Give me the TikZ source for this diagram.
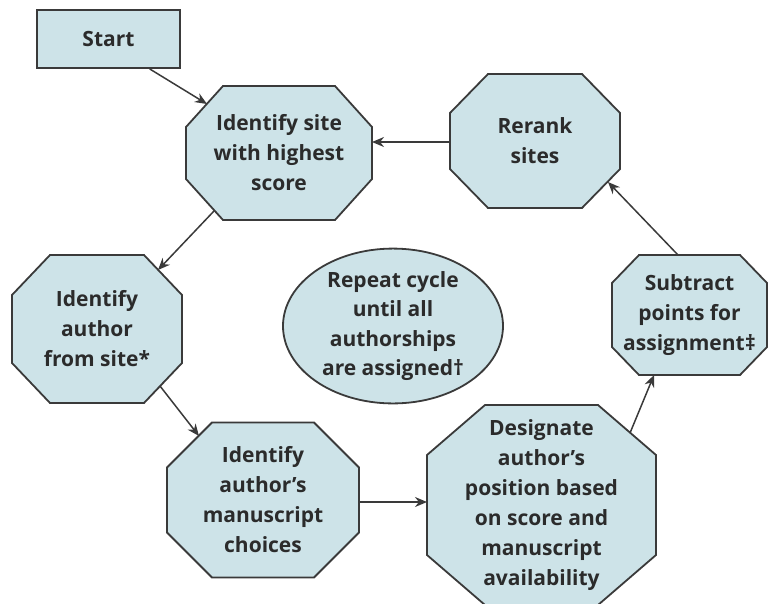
\documentclass[tikz,border=0pt]{standalone}
\usepackage{fontspec}
\setmainfont{Open Sans}
\usetikzlibrary{shapes.geometric,arrows.meta,calc}
\definecolor{boxfill}{HTML}{CDE3E8}
\definecolor{boxline}{HTML}{3A3A3A}
\definecolor{txt}{HTML}{2B2B2B}
\tikzset{
  lbl/.style={text=txt, align=center, inner sep=0pt,
    font=\fontsize{21}{30}\selectfont\bfseries},
  base/.style={lbl, draw=boxline, line width=1.8pt, fill=boxfill},
  octfill/.style={draw=boxline, line width=1.8pt, fill=boxfill, line join=miter},
  conn/.style={draw=boxline, line width=1.5pt, -{Stealth[length=12pt,width=10pt]}}
}
% name, cx, cy, width, height, cut x, cut y, text
\newcommand\octo[8]{%
  \path[octfill] ({#2-#4/2+#6},{#3-#5/2}) -- ({#2+#4/2-#6},{#3-#5/2})
    -- ({#2+#4/2},{#3-#5/2+#7}) -- ({#2+#4/2},{#3+#5/2-#7})
    -- ({#2+#4/2-#6},{#3+#5/2}) -- ({#2-#4/2+#6},{#3+#5/2})
    -- ({#2-#4/2},{#3+#5/2-#7}) -- ({#2-#4/2},{#3-#5/2+#7}) -- cycle;
  \node[lbl] (#1) at (#2,#3) {#8};
}
\begin{document}
\begin{tikzpicture}[x=1pt,y=-1pt]
\useasboundingbox (0,0) rectangle (768,603);
\node[base, rectangle, minimum width=143pt, minimum height=58pt] (start) at (108.5,39) {Start};
\octo{site}{279}{153}{186}{134}{37}{41}{Identify site\\with highest\\score}
\octo{rerank}{535}{141}{170}{134}{38}{39}{Rerank\\sites}
\octo{author}{97}{329}{170}{148}{38}{40}{Identify\\author\\from site*}
\node[base, ellipse, minimum width=220pt, minimum height=142pt, font=\fontsize{21}{29.5}\selectfont\bfseries] (cycle) at (393,326) {Repeat cycle\\until all\\authorships\\are assigned†};
\octo{subtract}{689.5}{315}{155}{120}{27}{28}{Subtract\\points for\\assignment‡}
\octo{manus}{263}{500}{192}{155}{45}{45}{Identify\\author’s\\manuscript\\choices}
\octo{desig}{541.5}{505}{229}{200}{58}{50}{Designate\\author’s\\position based\\on score and\\manuscript\\availability}
\draw[conn] (start.-36) -- ($(site)+(-72,-49)$);
\draw[conn] ($(site)+(-65,58)$) -- ($(author)+(61,-59)$);
\draw[conn] ($(author)+(63,57)$) -- ($(manus)+(-64,-64)$);
\draw[conn] ($(manus)+(96,2)$) -- ($(desig)+(-114.5,-3)$);
\draw[conn] ($(desig)+(88.5,-72)$) -- ($(subtract)+(-35.5,60)$);
\draw[conn] ($(subtract)+(-11.5,-60)$) -- ($(rerank)+(73,41)$);
\draw[conn] ($(rerank)+(-85,1)$) -- ($(site)+(93,-11)$);
\end{tikzpicture}
\end{document}
